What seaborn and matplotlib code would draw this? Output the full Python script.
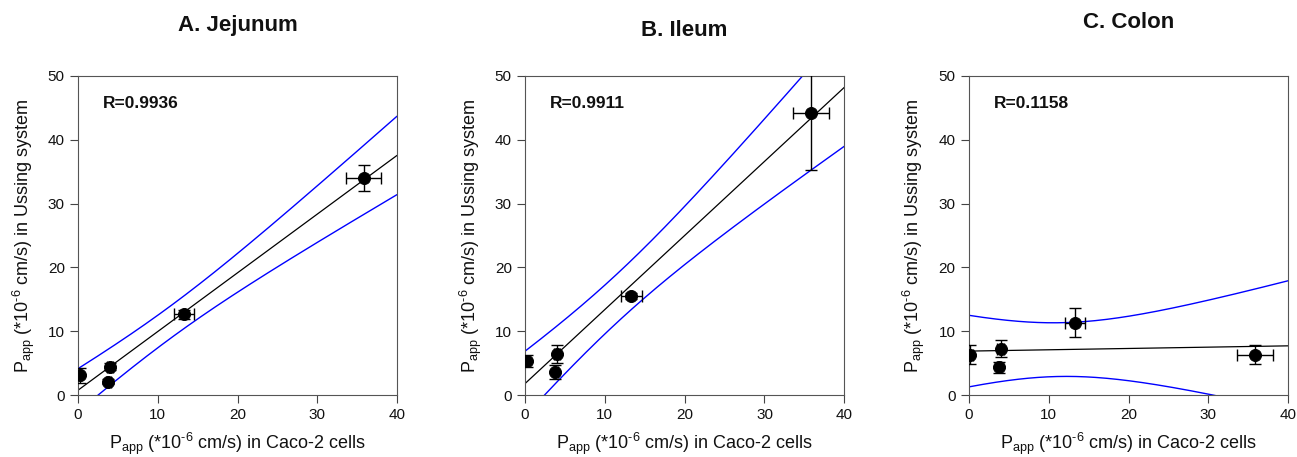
import numpy as np
import pandas as pd
import matplotlib
matplotlib.use("Agg")
import matplotlib.pyplot as plt
import seaborn as sns

# ---- data ----
caco_x = [0.2, 3.8, 4.0, 13.3, 35.8]
caco_xerr = [0.3, 0.3, 0.4, 1.3, 2.25]

jejunum_y = [3.1, 2.1, 4.5, 12.7, 34.0]
jejunum_yerr = [1.1, 0.4, 0.5, 0.7, 2.0]

ileum_y = [5.4, 3.7, 6.5, 15.5, 44.2]
ileum_yerr = [0.95, 1.1, 1.4, 0.5, 9.0]

colon_y = [6.35, 4.4, 7.3, 11.35, 6.35]
colon_yerr = [1.45, 0.85, 1.35, 2.25, 1.45]

panel_titles = ["A. Jejunum", "B. Ileum", "C. Colon"]
r_labels = ["R=0.9936", "R=0.9911", "R=0.1158"]
x_ticks = [0, 10, 20, 30, 40]
y_ticks = [0, 10, 20, 30, 40, 50]

T_975_DF3 = 3.182446  # Student t quantile, 95% two-sided, n-2 = 3 df

sns.set_theme(style="ticks")
plt.rcParams["font.family"] = ["Liberation Sans", "DejaVu Sans"]
plt.rcParams["mathtext.fontset"] = "custom"
plt.rcParams["mathtext.rm"] = "Liberation Sans"
plt.rcParams["mathtext.it"] = "Liberation Sans:italic"
plt.rcParams["mathtext.bf"] = "Liberation Sans:bold"

W, H = 1297, 457
fig = plt.figure(figsize=(W / 100, H / 100), dpi=100)

axes_px = [(78, 397), (525, 844.3), (968.7, 1288.3)]
top_px, bot_px = 75.7, 395.3
title_y_px = [25, 30, 22]

series = [(jejunum_y, jejunum_yerr), (ileum_y, ileum_yerr), (colon_y, colon_yerr)]

xlab = "P$_{\\rm app}$ (*10$^{\\rm \u20106}$ cm/s) in Caco-2 cells"
ylab = "P$_{\\rm app}$ (*10$^{\\rm \u20106}$ cm/s) in Ussing system"

for i, ((x0, x1), (yv, ye)) in enumerate(zip(axes_px, series)):
    ax = fig.add_axes([x0 / W, 1 - bot_px / H, (x1 - x0) / W, (bot_px - top_px) / H])
    x = np.array(caco_x)
    y = np.array(yv)
    n = len(x)
    slope, intercept = np.polyfit(x, y, 1)
    resid = y - (slope * x + intercept)
    s = np.sqrt(np.sum(resid ** 2) / (n - 2))
    sxx = np.sum((x - x.mean()) ** 2)
    xs = np.linspace(0, 40, 200)
    yfit = slope * xs + intercept
    hw = T_975_DF3 * s * np.sqrt(1 / n + (xs - x.mean()) ** 2 / sxx)
    fit = pd.DataFrame({"x": xs, "fit": yfit, "lo": yfit - hw, "hi": yfit + hw})

    sns.lineplot(data=fit, x="x", y="hi", ax=ax, color="#0000ff", lw=1.0)
    sns.lineplot(data=fit, x="x", y="lo", ax=ax, color="#0000ff", lw=1.0)
    sns.lineplot(data=fit, x="x", y="fit", ax=ax, color="black", lw=0.9)

    ax.errorbar(x, y, xerr=caco_xerr, yerr=ye, fmt="none", ecolor="black",
                elinewidth=1.0, capsize=4.5, capthick=1.0, zorder=3)
    pts = pd.DataFrame({"x": x, "y": y})
    sns.scatterplot(data=pts, x="x", y="y", ax=ax, color="black", s=75,
                    edgecolor="black", zorder=4)

    ax.set_xlim(0, 40)
    ax.set_ylim(0, 50)
    ax.set_xticks(x_ticks)
    ax.set_yticks(y_ticks)
    ax.tick_params(labelsize=11, length=5.5, width=0.8, color="#444444", pad=4,
                   labelcolor="#111111")
    for sp in ax.spines.values():
        sp.set_linewidth(0.8)
        sp.set_color("#555555")
    ax.set_xlabel(xlab, fontsize=13, labelpad=6, color="#111111")
    ax.set_ylabel(ylab, fontsize=13, labelpad=8, color="#111111")
    ax.text(3.1, 45.6, r_labels[i], fontsize=12.5, fontweight="bold", va="center", ha="left",
            color="#111111")
    fig.text(((x0 + x1) / 2) / W, 1 - title_y_px[i] / H, panel_titles[i],
             fontsize=16, fontweight="bold", ha="center", va="center", color="#111111")

fig.savefig("out.png", dpi=100)
